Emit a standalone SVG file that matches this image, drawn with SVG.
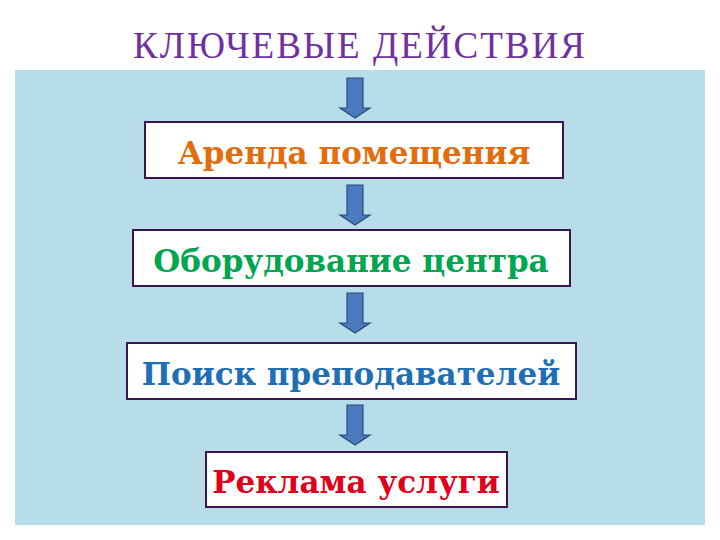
<svg xmlns="http://www.w3.org/2000/svg" width="720" height="540" viewBox="0 0 720 540">
<defs>
<style>
.box{fill:#fff;stroke:#3b1450;stroke-width:2}
.t{font-family:"DejaVu Serif","Liberation Serif",serif;font-weight:bold;font-size:31px;text-anchor:middle;stroke:#fff;stroke-width:3;paint-order:stroke}
.arr{fill:#4a7bbf;stroke:#2c4a78;stroke-width:1.2}
</style>
<path id="a" class="arr" d="M-8,0 H8 V30 H15 L0,40 L-15,30 H-8 Z"/>
</defs>
<rect width="720" height="540" fill="#fff"/>
<rect x="15" y="70" width="690" height="455" fill="#b7dde8"/>
<text x="360" y="58" font-family="Liberation Serif,serif" font-size="37" fill="#7030a0" text-anchor="middle" letter-spacing="2">КЛЮЧЕВЫЕ ДЕЙСТВИЯ</text>
<g id="connectors">
<use href="#a" x="355" y="78"/>
<use href="#a" x="355" y="185"/>
<use href="#a" x="355" y="293"/>
<use href="#a" x="355" y="405"/>
</g>
<g id="n1"><rect class="box" x="145" y="122" width="418" height="56"/><text class="t" x="354" y="164" fill="#e46c0a">Аренда помещения</text></g>
<g id="n2"><rect class="box" x="133" y="230" width="437" height="56"/><text class="t" x="351" y="272" fill="#00a550">Оборудование центра</text></g>
<g id="n3"><rect class="box" x="127" y="343" width="449" height="56"/><text class="t" x="351" y="385" fill="#1f6fb5">Поиск преподавателей</text></g>
<g id="n4"><rect class="box" x="206" y="452" width="301" height="55"/><text class="t" x="356" y="493" fill="#e0001a">Реклама услуги</text></g>
</svg>
